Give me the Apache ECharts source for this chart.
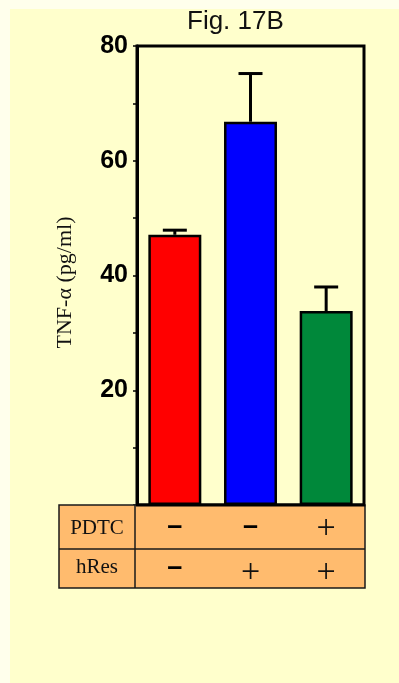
<!DOCTYPE html>
<html>
<head>
<meta charset="utf-8">
<script src="https://cdn.jsdelivr.net/npm/echarts@6/dist/echarts.min.js"></script>
<style>
  html, body { margin: 0; padding: 0; background: #FFFFEC; }
  #chart { width: 399px; height: 683px; }
</style>
</head>
<body>
<div id="chart"></div>
<script>
// Treatment groups and their conditions
const groups = ['control', 'hRes', 'PDTC + hRes'];
const pdtc = ['–', '–', '+'];
const hres = ['–', '+', '+'];

// TNF-alpha concentration (pg/ml): mean and upper error
const tnfMean = [47.1, 66.8, 33.8];
const tnfErr = [0.8, 8.4, 4.2];
const barColors = ['#FF0000', '#0000FF', '#00883A'];

// Labelled y ticks
const yTicks = [20, 40, 60, 80];

const GRID = { left: 137, right: 35, top: 46, bottom: 178 };
const W = 399, H = 683;

const chart = echarts.init(document.getElementById('chart'), null, { renderer: 'canvas' });

const option = {
  backgroundColor: '#FFFFEC',
  animation: false,
  title: {
    text: 'Fig. 17B',
    left: 182,
    top: 4,
    textStyle: { fontFamily: 'Liberation Sans, Arial', fontSize: 26, fontWeight: 'normal', color: '#111' }
  },
  grid: {
    left: GRID.left, right: GRID.right, top: GRID.top, bottom: GRID.bottom,
    show: true, borderColor: '#000', borderWidth: 3, backgroundColor: 'transparent'
  },
  xAxis: {
    type: 'category',
    data: groups,
    axisLine: { show: false },
    axisTick: { show: false },
    axisLabel: { show: false },
    splitLine: { show: false }
  },
  yAxis: {
    type: 'value',
    min: 0, max: 80, interval: 20,
    name: 'TNF-α (pg/ml)',
    nameLocation: 'middle',
    nameGap: 61,
    nameRotate: 90,
    nameTextStyle: { fontFamily: 'Liberation Serif, Times New Roman', fontSize: 22, color: '#111', padding: [0, 14, 0, 0] },
    axisLine: { show: true, lineStyle: { color: '#000', width: 3 } },
    axisTick: { show: true, inside: false, length: 4, lineStyle: { color: '#000', width: 1.5 } },
    minorTick: { show: true, splitNumber: 2, length: 4, lineStyle: { color: '#000', width: 1.5 } },
    splitLine: { show: false },
    axisLabel: {
      margin: 9,
      padding: [8, 0, 0, 0],
      fontFamily: 'Liberation Sans, Arial',
      fontSize: 25,
      fontWeight: 'bold',
      color: '#000',
      formatter: v => (yTicks.indexOf(v) >= 0 ? String(v) : '')
    }
  },
  series: [
    {
      type: 'bar',
      barWidth: '70%',
      data: tnfMean.map((v, i) => ({
        value: v,
        itemStyle: { color: barColors[i], borderColor: '#000', borderWidth: 2.5 }
      })),
      z: 2
    },
    {
      type: 'custom',
      z: 3,
      data: tnfMean.map((v, i) => [i, v, v + tnfErr[i]]),
      renderItem: function (params, api) {
        const base = api.coord([api.value(0), api.value(1)]);
        const top = api.coord([api.value(0), api.value(2)]);
        const half = 12;
        const style = { stroke: '#000', lineWidth: 3 };
        return {
          type: 'group',
          children: [
            { type: 'line', shape: { x1: base[0], y1: base[1], x2: top[0], y2: top[1] }, style: style },
            { type: 'line', shape: { x1: top[0] - half, y1: top[1], x2: top[0] + half, y2: top[1] }, style: style }
          ]
        };
      }
    }
  ]
};

chart.setOption(option);

// Condition table beneath the bars, aligned to the category axis
const tableLeft = 59, labelCol = 135, tableRight = W - GRID.right + 1;
const rowTop = H - GRID.bottom, rowMid = rowTop + 44, rowBottom = rowTop + 83;
const centers = groups.map((g, i) => chart.convertToPixel({ xAxisIndex: 0 }, i));

const rowLabelStyle = { fontFamily: 'Liberation Serif, Times New Roman', fontSize: 21, fill: '#111', align: 'center', verticalAlign: 'middle' };
function signStyle(s) {
  return s === '+'
    ? { fontFamily: 'Liberation Serif, Times New Roman', fontSize: 34, fill: '#111', align: 'center', verticalAlign: 'middle' }
    : { fontFamily: 'Liberation Sans, Arial', fontSize: 27, fontWeight: 'bold', fill: '#000', align: 'center', verticalAlign: 'middle' };
}

const graphics = [
  { type: 'rect', z: -10, silent: true, shape: { x: 10, y: 9, width: W - 10, height: H - 9 }, style: { fill: '#FFFFCC' } },
  { type: 'rect', z: 1, shape: { x: tableLeft, y: rowTop, width: tableRight - tableLeft, height: rowBottom - rowTop },
    style: { fill: '#FFBB6E', stroke: '#1a1a1a', lineWidth: 1.5 } },
  { type: 'line', z: 2, shape: { x1: tableLeft, y1: rowMid, x2: tableRight, y2: rowMid }, style: { stroke: '#1a1a1a', lineWidth: 1.5 } },
  { type: 'line', z: 2, shape: { x1: labelCol, y1: rowTop, x2: labelCol, y2: rowBottom }, style: { stroke: '#1a1a1a', lineWidth: 1.5 } },
  { type: 'line', z: 3, shape: { x1: GRID.left - 1, y1: rowTop, x2: tableRight, y2: rowTop }, style: { stroke: '#000', lineWidth: 3 } },
  { type: 'text', z: 3, x: (tableLeft + labelCol) / 2, y: (rowTop + rowMid) / 2 + 1, style: Object.assign({ text: 'PDTC' }, rowLabelStyle) },
  { type: 'text', z: 3, x: (tableLeft + labelCol) / 2, y: (rowMid + rowBottom) / 2 - 1, style: Object.assign({ text: 'hRes' }, rowLabelStyle) }
];
centers.forEach((cx, i) => {
  graphics.push({ type: 'text', z: 3, x: cx, y: (rowTop + rowMid) / 2 + (pdtc[i] === '+' ? 2 : 0), style: Object.assign({ text: pdtc[i] }, signStyle(pdtc[i])) });
  graphics.push({ type: 'text', z: 3, x: cx, y: (rowMid + rowBottom) / 2 + (hres[i] === '+' ? 5 : -1), style: Object.assign({ text: hres[i] }, signStyle(hres[i])) });
});

chart.setOption({ graphic: graphics });
</script>
</body>
</html>
